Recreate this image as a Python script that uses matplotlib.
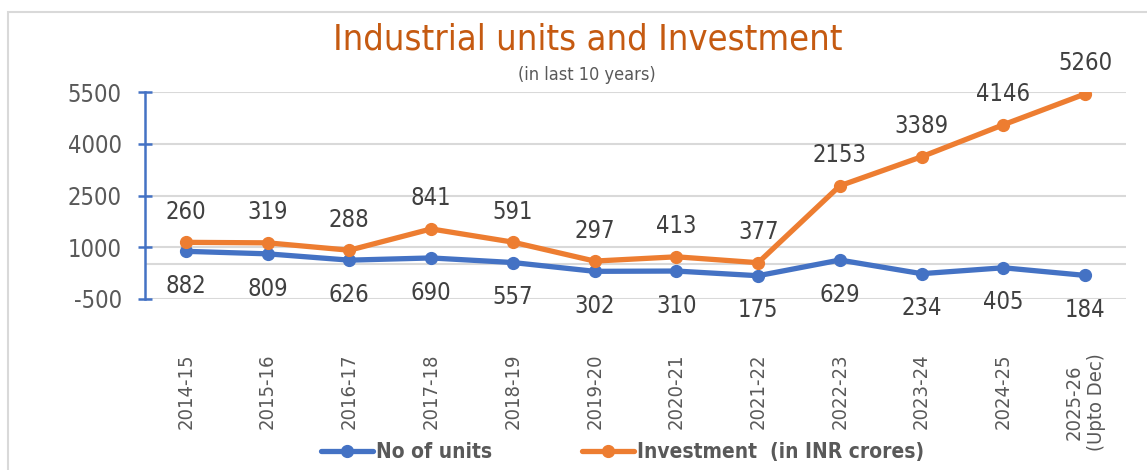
import matplotlib
matplotlib.use("Agg")
import matplotlib.pyplot as plt
from matplotlib.patches import Rectangle
import numpy as np

categories = ["2014-15", "2015-16", "2016-17", "2017-18", "2018-19", "2019-20",
              "2020-21", "2021-22", "2022-23", "2023-24", "2024-25", "2025-26\n(Upto Dec)"]
units = [882, 809, 626, 690, 557, 302, 310, 175, 629, 234, 405, 184]
investment = [260, 319, 288, 841, 591, 297, 413, 377, 2153, 3389, 4146, 5260]
yticks = [-500, 1000, 2500, 4000, 5500]

plt.rcParams['font.family'] = ['DejaVu Sans']
plt.rcParams['font.stretch'] = 'condensed'

BLUE = '#4472C4'
ORANGE = '#ED7D31'
TITLE = '#C55A11'
GREY = '#595959'
GRID = '#D9D9D9'

fig = plt.figure(figsize=(11.47, 4.70), dpi=100)
fig.patch.set_facecolor('white')
fig.patches.append(Rectangle((8/1147, -0.2), 1.5, 1.2 - 12/470, transform=fig.transFigure,
                             fill=False, edgecolor=GRID, lw=1.5))

ax = fig.add_axes([145/1147, 1 - 299/470, (1126 - 145)/1147, (299 - 92)/470])
x = np.arange(len(categories))
stacked = [u + v for u, v in zip(units, investment)]

ax.plot(x, units, color=BLUE, lw=3.8, marker='o', ms=8.5, solid_capstyle='round', zorder=3,
        label='No of units')
ax.plot(x, stacked, color=ORANGE, lw=3.8, marker='o', ms=8.5, solid_capstyle='round', zorder=3,
        label='Investment  (in INR crores)')

for xi, u, s, v in zip(x, units, stacked, investment):
    ax.annotate(f"{u}", (xi, u), xytext=(0, -25), textcoords='offset points',
                ha='center', va='center', fontsize=17, color='#404040')
    ax.annotate(f"{v}", (xi, s), xytext=(0, 22), textcoords='offset points',
                ha='center', va='center', fontsize=17, color='#404040')

ax.set_xlim(-0.5, len(categories) - 0.5)
ax.set_ylim(yticks[0], yticks[-1])
ax.set_yticks(yticks)
ax.set_yticklabels([str(t) for t in yticks], fontsize=17, color=GREY)
ax.grid(axis='y', color=GRID, lw=1.5)
ax.axhline(520, color=GRID, lw=1.5, zorder=1)
ax.set_axisbelow(True)
for s in ['top', 'right', 'bottom']:
    ax.spines[s].set_visible(False)
ax.spines['left'].set_color(BLUE)
ax.spines['left'].set_linewidth(1.8)
ax.tick_params(axis='y', direction='inout', length=9.5, width=1.8, color=BLUE, pad=12)
ax.set_xticks(x)
ax.set_xticklabels(categories, rotation=90, va='top', ha='center', fontsize=14.5, color=GREY,
                   multialignment='center')
ax.tick_params(axis='x', length=0, pad=39)

fig.text(0.512, 1 - 40/470, "Industrial units and Investment", ha='center', va='center',
         fontsize=26, color=TITLE)
fig.text(0.512, 1 - 75/470, "(in last 10 years)", ha='center', va='center',
         fontsize=13, color=GREY)

leg = fig.legend(loc='center', bbox_to_anchor=(0.5427, 1 - 452/470), ncol=2, frameon=False,
                 handlelength=2.5, columnspacing=4.3, handletextpad=0.15,
                 prop={'size': 15, 'weight': 'bold'})
for t in leg.get_texts():
    t.set_color(GREY)

fig.savefig('out.png', dpi=100)
